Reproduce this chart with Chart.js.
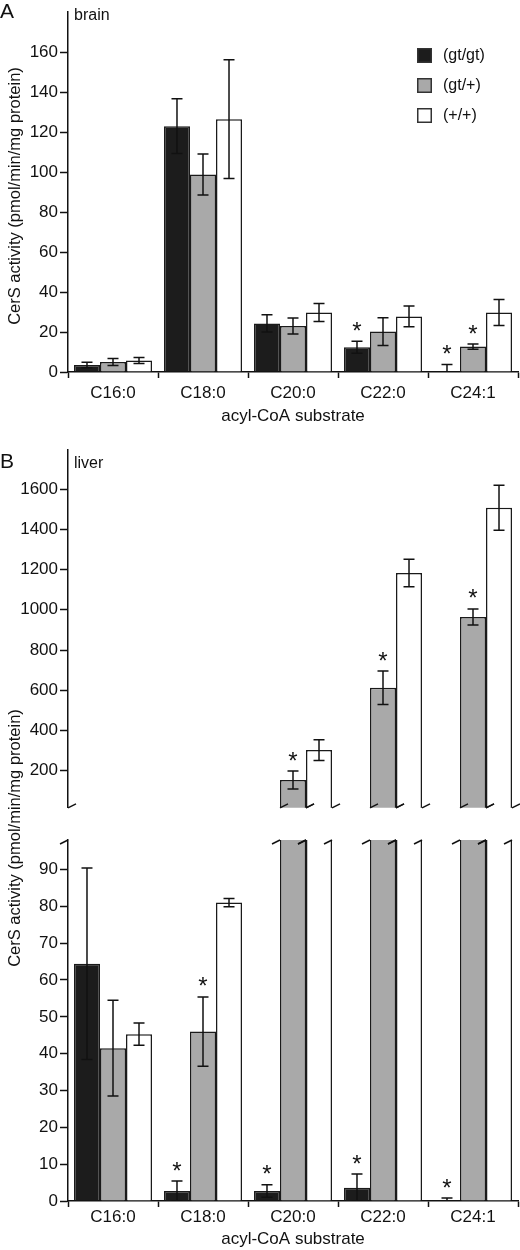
<!DOCTYPE html>
<html>
<head>
<meta charset="utf-8">
<script src="https://cdn.jsdelivr.net/npm/chart.js@4.4.1/dist/chart.umd.min.js"></script>
<style>
  body { margin: 0; background: #fff; }
  #wrap { position: relative; width: 520px; height: 1250px; }
  canvas { position: absolute; left: 0; }
</style>
</head>
<body>
<div id="wrap">
  <canvas id="brain" width="520" height="430" style="top:0"></canvas>
  <canvas id="liverLow" width="520" height="820" style="top:430px"></canvas>
  <canvas id="liverHigh" width="520" height="390" style="top:430px"></canvas>
</div>
<script>
const substrates = ['C16:0', 'C18:0', 'C20:0', 'C22:0', 'C24:1'];
const genotypes = ['(gt/gt)', '(gt/+)', '(+/+)'];
const fills = ['#1c1c1c', '#a9a9a9', '#ffffff'];

// A: brain
const brainGtGt = [3.5, 123, 24.3, 12.4, 0];
const brainGtHet = [5, 98.8, 23, 20.2, 12.7];
const brainWt = [5.7, 126.5, 29.8, 27.8, 29.8];
const brainGtGtSd = [1.4, 13.7, 4.3, 3, 3.7];
const brainGtHetSd = [1.7, 10.2, 4, 7, 1.3];
const brainWtSd = [1.5, 29.7, 4.5, 5.2, 6.5];
const brainStars = [[0, 0, 0, 1, 1], [0, 0, 0, 0, 1], [0, 0, 0, 0, 0]];
const brainTicks = [0, 20, 40, 60, 80, 100, 120, 140, 160];

// B: liver
const liverGtGt = [64.4, 2.7, 2.7, 3.6, 0];
const liverGtHet = [41.5, 46, 153, 612, 964];
const liverWt = [45.3, 81, 302, 1183, 1508];
const liverGtGtSd = [26, 2.7, 1.7, 3.7, 0.8];
const liverGtHetSd = [13, 9.4, 45, 83, 40];
const liverWtSd = [3, 1.1, 52, 68, 112];
const liverStars = [[0, 1, 1, 1, 1], [0, 1, 1, 1, 1], [0, 0, 0, 0, 0]];
const liverLowTicks = [0, 10, 20, 30, 40, 50, 60, 70, 80, 90];
const liverHighTicks = [200, 400, 600, 800, 1000, 1200, 1400, 1600];
const liverLowMax = 98;

const yTitle = 'CerS activity (pmol/min/mg protein)';
const FONT = '"Liberation Sans", Arial, sans-serif';
Chart.defaults.font.family = FONT;
Chart.defaults.font.size = 17;
Chart.defaults.color = '#111';

function makeSets(vals, sds, stars, keep) {
  return vals.map((v, i) => ({
    label: genotypes[i],
    data: keep ? v.map(keep) : v,
    sd: sds[i],
    stars: stars[i],
    backgroundColor: fills[i],
    borderColor: '#1a1a1a',
    borderWidth: 1.5,
    categoryPercentage: 0.867,
    barPercentage: 1,
    clip: 0
  }));
}

const axisLine = { color: '#111', width: 1.5 };
function yScale(min, max, ticks, tickLen) {
  return {
    min, max,
    afterBuildTicks: s => { s.ticks = ticks.map(v => ({ value: v })); },
    afterFit: s => { s.width = 68; },
    grid: { drawOnChartArea: false, tickLength: tickLen, tickWidth: 1.5, tickColor: '#111' },
    border: axisLine,
    ticks: { padding: 2, color: '#111', callback: v => String(v) }
  };
}
function xScale(height, pad, titlePad) {
  return {
    afterFit: s => { s.height = height; },
    grid: { drawOnChartArea: false, tickLength: 6, tickWidth: 1.5, tickColor: '#111' },
    border: axisLine,
    ticks: { padding: pad, color: '#111' },
    title: { display: true, text: 'acyl-CoA substrate', padding: { top: 0, bottom: titlePad }, color: '#111' }
  };
}

// error bars and asterisks
const errorBars = {
  id: 'errorBars',
  afterDatasetsDraw(chart) {
    const { ctx, chartArea: a, scales: { y } } = chart;
    ctx.save();
    ctx.strokeStyle = '#111';
    ctx.lineWidth = 1.5;
    ctx.beginPath();
    ctx.rect(a.left, a.top, a.right - a.left, a.bottom - a.top);
    ctx.clip();
    chart.data.datasets.forEach((ds, i) => {
      chart.getDatasetMeta(i).data.forEach((bar, j) => {
        const v = ds.data[j];
        if (v == null || v > y.max) return;
        const hi = y.getPixelForValue(v + ds.sd[j]);
        const lo = y.getPixelForValue(v - ds.sd[j]);
        ctx.beginPath();
        ctx.moveTo(bar.x, hi); ctx.lineTo(bar.x, lo);
        ctx.moveTo(bar.x - 5.5, hi); ctx.lineTo(bar.x + 5.5, hi);
        ctx.moveTo(bar.x - 5.5, lo); ctx.lineTo(bar.x + 5.5, lo);
        ctx.stroke();
      });
    });
    ctx.restore();
    ctx.save();
    ctx.fillStyle = '#111';
    ctx.font = '24px ' + FONT;
    ctx.textAlign = 'center';
    ctx.textBaseline = 'alphabetic';
    chart.data.datasets.forEach((ds, i) => {
      chart.getDatasetMeta(i).data.forEach((bar, j) => {
        const v = ds.data[j];
        if (v == null || v > y.max || !ds.stars[j]) return;
        const hi = y.getPixelForValue(v + ds.sd[j]);
        ctx.fillText('*', bar.x, hi - 2.5);
      });
    });
    ctx.restore();
  }
};

function textMarks(items, title) {
  return {
    id: 'textMarks',
    afterDraw(chart) {
      const ctx = chart.ctx;
      ctx.save();
      ctx.fillStyle = '#111';
      ctx.textBaseline = 'alphabetic';
      items.forEach(t => {
        ctx.font = t.size + 'px ' + FONT;
        ctx.textAlign = 'left';
        ctx.fillText(t.text, t.x, t.y);
      });
      if (title) {
        ctx.translate(title.x, title.y);
        ctx.rotate(-Math.PI / 2);
        ctx.font = '16.5px ' + FONT;
        ctx.textAlign = 'center';
        ctx.textBaseline = 'middle';
        ctx.fillText(yTitle, 0, 0);
      }
      ctx.restore();
    }
  };
}

const legendBox = {
  id: 'legendBox',
  afterDraw(chart) {
    const ctx = chart.ctx;
    ctx.save();
    ctx.font = '16px ' + FONT;
    ctx.textBaseline = 'alphabetic';
    ctx.textAlign = 'left';
    chart.data.datasets.forEach((ds, i) => {
      const top = 48 + i * 30;
      ctx.fillStyle = ds.backgroundColor;
      ctx.fillRect(417, top, 15, 15);
      ctx.strokeStyle = '#333';
      ctx.lineWidth = 1.5;
      ctx.strokeRect(417.75, top + 0.75, 13.5, 13.5);
      ctx.fillStyle = '#111';
      ctx.fillText(ds.label, 443, top + 11.6);
    });
    ctx.restore();
  }
};

// broken-axis marks
function breakMarks(where) {
  return {
    id: 'breakMarks',
    afterDraw(chart) {
      const { ctx, chartArea: a, scales: { y } } = chart;
      const edges = [a.left];
      chart.data.datasets.forEach((ds, i) => {
        chart.getDatasetMeta(i).data.forEach((bar, j) => {
          const v = ds.data[j];
          if (v == null) return;
          if (where === 'top' && v <= y.max) return;
          edges.push(bar.x - bar.width / 2, bar.x + bar.width / 2);
        });
      });
      ctx.save();
      ctx.strokeStyle = '#111';
      ctx.lineWidth = 1.5;
      edges.forEach(x => {
        ctx.beginPath();
        if (where === 'bottom') { ctx.moveTo(x, a.bottom); ctx.lineTo(x + 8, a.bottom - 4); }
        else { ctx.moveTo(x - 8, a.top + 4); ctx.lineTo(x, a.top); }
        ctx.stroke();
      });
      ctx.restore();
    }
  };
}

new Chart(document.getElementById('brain'), {
  type: 'bar',
  data: {
    labels: substrates,
    datasets: makeSets([brainGtGt, brainGtHet, brainWt], [brainGtGtSd, brainGtHetSd, brainWtSd], brainStars)
  },
  options: {
    responsive: false,
    animation: false,
    layout: { padding: { top: 4, right: 2, left: 0, bottom: 0 } },
    plugins: { legend: { display: false }, tooltip: { enabled: false } },
    scales: {
      x: xScale(58, 5, 3),
      y: yScale(0, 180, brainTicks, 8)
    }
  },
  plugins: [errorBars, legendBox,
    textMarks([{ text: 'A', x: 0, y: 18, size: 21 }, { text: 'brain', x: 74, y: 20, size: 16 }], { x: 15.5, y: 196 })]
});

new Chart(document.getElementById('liverLow'), {
  type: 'bar',
  data: {
    labels: substrates,
    datasets: makeSets([liverGtGt, liverGtHet, liverWt], [liverGtGtSd, liverGtHetSd, liverWtSd], liverStars)
  },
  options: {
    responsive: false,
    animation: false,
    layout: { padding: { top: 410, right: 2, left: 0, bottom: 0 } },
    plugins: { legend: { display: false }, tooltip: { enabled: false } },
    scales: {
      x: xScale(49, 0, 0),
      y: yScale(0, liverLowMax, liverLowTicks, 8)
    }
  },
  plugins: [errorBars, breakMarks('top'), textMarks([], { x: 15.5, y: 408 })]
});

new Chart(document.getElementById('liverHigh'), {
  type: 'bar',
  data: {
    labels: substrates,
    datasets: makeSets([liverGtGt, liverGtHet, liverWt], [liverGtGtSd, liverGtHetSd, liverWtSd], liverStars,
      v => (v > liverLowMax ? v : null))
  },
  options: {
    responsive: false,
    animation: false,
    layout: { padding: { top: 20, right: 2, left: 0, bottom: 5 } },
    plugins: { legend: { display: false }, tooltip: { enabled: false } },
    scales: {
      x: { display: false },
      y: yScale(15, 1795, liverHighTicks, 8)
    }
  },
  plugins: [errorBars, breakMarks('bottom'),
    textMarks([{ text: 'B', x: 0, y: 38, size: 21 }, { text: 'liver', x: 74, y: 38, size: 16 }])]
});
</script>
</body>
</html>
